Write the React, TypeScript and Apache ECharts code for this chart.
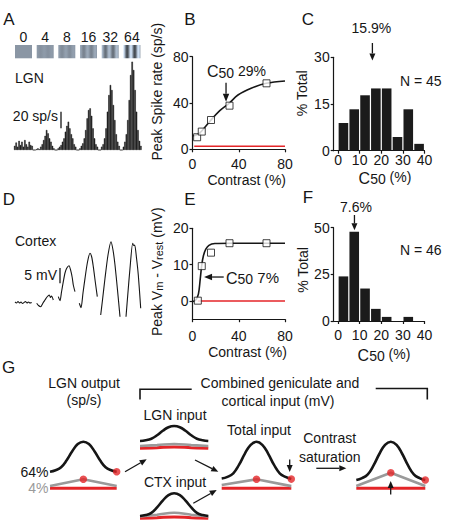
import React, { useEffect, useRef } from 'react';
import * as echarts from 'echarts';

const FONT = '"Liberation Sans", Arial, Helvetica, sans-serif';
const INK = '#161616';
const RED = '#e42528';
const GRAY = '#9a9a9a';

// ---------- Panel A: LGN PSTHs ----------
const stimContrasts = [0, 4, 8, 16, 32, 64];
const stimLabels = ['0', '4', '8', '16', '32', '64'];
const psth0 = [5, 9, 4, 11, 6, 10, 4, 12, 7, 4, 10, 6, 5];
const psth4 = [1, 2, 1, 4, 7, 12, 17, 24, 20, 14, 10, 5, 2];
const psth8 = [2, 4, 6, 10, 14, 22, 29, 34, 26, 19, 14, 7, 4];
const psth16 = [2, 5, 8, 14, 24, 38, 48, 50, 41, 26, 14, 7, 4];
const psth32 = [4, 7, 14, 26, 46, 66, 78, 72, 54, 36, 19, 10, 5];
const psth64 = [4, 10, 19, 36, 60, 90, 106, 96, 72, 46, 24, 11, 5];
const psthGapBins = 2;

// ---------- Panel B ----------
const bContrast = [4, 8, 16, 32, 64];
const bRate = [10.4, 15.3, 25.3, 37.7, 57];
const bFit = [[0, 11.5], [4.6, 12.9], [8, 15.8], [16, 25.3], [23.6, 33.4], [31.6, 39.7], [39.3, 46.9], [50.7, 52.7], [63.8, 57], [80, 59]];
const bSpont = [[1.5, 2.6], [80, 2.6]];
const bC50 = 29;

// ---------- Panel C ----------
const histBins = [2.5, 7.5, 12.5, 17.5, 22.5, 27.5, 32.5, 37.5];
const cPct = [8.9, 13.3, 17.8, 20, 20, 4.4, 13.3, 2.2];
const cMedian = 15.9;

// ---------- Panel D: cortical Vm traces (time, mV) ----------
const dSeg0 = [[5, 0], [6.5, -0.33], [8, 0.17], [9.5, -0.33], [11, 0], [12.5, -0.5], [14, -0.17], [15.5, 0.17], [17, -0.33], [18.5, 0], [20, -0.33], [21.7, -0.17]];
const dSeg4 = [[26.7, -0.43], [28.5, -1.17], [30.7, -1.57], [33, -0.33], [35, 0.67], [37, 1.67], [39.3, 2.33], [40.5, 1.5], [41.5, 2], [43.3, 0.67]];
const dSeg8 = [[48.3, 1.77], [50, 0.43], [51.5, 3.33], [53.3, 6.77], [55, 9.67], [56.7, 11.23], [59, 12.1], [61, 10.1], [62.3, 8], [63.3, 5.67], [65, 3.43]];
const dSeg16 = [[69.3, -0.43], [71, -1.9], [73, 3], [75, 7.9], [77.5, 13.33], [80, 16.23], [81.7, 15], [83.3, 11.77], [85.3, 6.67], [87.3, 1.77]];
const dSeg32 = [[90.7, -4.33], [92.5, 0.67], [95, 7.9], [98, 15.67], [101, 20.1], [103, 17.33], [105, 12.33], [107.5, 4], [110, -4.9]];
const dSeg64 = [[116, -4.9], [118, 3.33], [120, 11.23], [122.7, 19.57], [123.7, 18.83], [124.7, 19], [126.5, 14.67], [128.3, 9], [130.7, -2.1]];

// ---------- Panel E ----------
const eContrast = [4.6, 8, 16, 32, 64];
const eVm = [0.1, 9.6, 13.3, 15.9, 15.9];
const eFit = [[0, -0.2], [2.8, 0.3], [5.1, 1.9], [6.6, 5.8], [8, 9.9], [9.4, 12.4], [11.4, 14.2], [14.2, 15.3], [19.4, 15.8], [32.5, 15.9], [80, 15.9]];
const eRest = [[4.6, 0], [80, 0]];

// ---------- Panel F ----------
const fPct = [23.9, 47.8, 17.4, 6.5, 2.2, 0, 2.2, 0];
const fMedian = 7.6;

// ---------- Panel G: schematic tuning curves ----------
const gBlackLgnOut = [16.6, 18.1, 21.1, 28, 37, 44.2, 46.6, 44.2, 37, 28, 21.1, 18.1, 16.6];
const gBlackLgnIn = [7.3, 8, 9.6, 13, 17.5, 21.1, 22.3, 21.1, 17.5, 13, 9.6, 8, 7.3];
const gBlackCtxIn = [2.3, 3.2, 5.4, 10.9, 17.7, 23.2, 25, 23.2, 17.7, 10.9, 5.4, 3.2, 2.3];
const gBlackTotal = [9.8, 11.4, 15, 23.6, 34.7, 43.5, 46.5, 43.5, 34.7, 23.6, 15, 11.4, 9.2];
const gBlackSat = [8.3, 10.2, 14, 22.9, 34.3, 43.5, 46.6, 43.5, 34.3, 22.9, 14, 10.2, 8.3];
const gGrayLgnOut = [[0, 2.3], [6, 9], [12, 2.3]];
const gGrayLgnIn = [[0, 2.3], [3, 3.2], [6, 4.3], [9, 3.2], [12, 2.3]];
const gGrayCtxIn = [[0, 1.8], [3, 3.6], [6, 5.6], [9, 3.6], [12, 1.8]];
const gGrayTotal = [[0, 3.3], [6, 9], [12, 2.2]];
const gGraySat = [[0, 2.3], [6, 15.6], [12, 2.3]];
const gRedFlat = [[0, 0], [12, 0]];
const gRedHump = [[0, 0], [3, 0.6], [6, 1.3], [9, 0.6], [12, 0]];
const gDotsLgnOut = [[12, 16.6], [6, 9]];
const gDotsTotal = [[12, 9.2], [6, 9]];
const gDotsSat = [[12, 8.3], [6, 15.6]];

const gLayout = [
  { left: 50, width: 66.7, redY: 488.3, black: gBlackLgnOut, gray: gGrayLgnOut, graySmooth: false, red: gRedFlat, dots: gDotsLgnOut },
  { left: 140, width: 68.3, redY: 448.3, black: gBlackLgnIn, gray: gGrayLgnIn, graySmooth: true, red: gRedHump, dots: [] },
  { left: 140, width: 68.3, redY: 518.3, black: gBlackCtxIn, gray: gGrayCtxIn, graySmooth: true, red: gRedHump, dots: [] },
  { left: 221.7, width: 69.6, redY: 488.3, black: gBlackTotal, gray: gGrayTotal, graySmooth: false, red: gRedFlat, dots: gDotsTotal },
  { left: 356.3, width: 69, redY: 488.3, black: gBlackSat, gray: gGraySat, graySmooth: false, red: gRedFlat, dots: gDotsSat },
];

function axisBase(extra: any = {}) {
  return {
    axisLine: { show: true, onZero: false, lineStyle: { color: INK, width: 1.2 } },
    axisTick: { show: true, length: 3, lineStyle: { color: INK, width: 1.2 } },
    axisLabel: { fontSize: 14, color: INK, fontFamily: FONT, margin: 4 },
    splitLine: { show: false },
    ...extra,
  };
}

function txt(text: string, x: number, y: number, o: any = {}) {
  return {
    type: 'text', x, y, rotation: o.rot || 0, silent: true, z: 100,
    style: {
      text, fontSize: o.size || 14, fontFamily: FONT, fill: o.color || INK,
      align: o.align || 'center', verticalAlign: 'middle', rich: o.rich,
    },
  };
}

function arrow(x1: number, y1: number, x2: number, y2: number, lw = 1.3, head = 7, hw = 3) {
  const ang = Math.atan2(y2 - y1, x2 - x1);
  const bx = x2 - head * Math.cos(ang);
  const by = y2 - head * Math.sin(ang);
  const px = -Math.sin(ang) * hw;
  const py = Math.cos(ang) * hw;
  return [
    { type: 'line', silent: true, z: 100, shape: { x1, y1, x2: bx, y2: by }, style: { stroke: INK, lineWidth: lw } },
    { type: 'polygon', silent: true, z: 100, shape: { points: [[x2, y2], [bx + px, by + py], [bx - px, by - py]] }, style: { fill: INK } },
  ];
}

function subRich(cSize: number, sSize: number, tSize: number) {
  return {
    c: { fontSize: cSize, lineHeight: 16, verticalAlign: 'top', fontFamily: FONT, color: INK },
    s: { fontSize: sSize, lineHeight: 8, verticalAlign: 'bottom', fontFamily: FONT, color: INK },
    t: { fontSize: tSize, lineHeight: 16, verticalAlign: 'top', fontFamily: FONT, color: INK },
  };
}

function gratingFill(c: number) {
  const stops: any[] = [];
  const n = 40;
  for (let i = 0; i <= n; i++) {
    const pos = i / n;
    const f = 1 + 0.78 * (c / 100) * Math.cos(2 * Math.PI * 2.25 * pos);
    const r = Math.min(255, Math.round(138 * f));
    const g = Math.min(255, Math.round(150 * f));
    const b = Math.min(255, Math.round(164 * f));
    stops.push({ offset: pos, color: `rgb(${r},${g},${b})` });
  }
  return new echarts.graphic.LinearGradient(0, 0, 1, 0, stops);
}

function buildOption() {
  const psths = [psth0, psth4, psth8, psth16, psth32, psth64];
  const aValues: number[] = [];
  psths.forEach((h, i) => {
    aValues.push(...h);
    if (i < psths.length - 1) for (let k = 0; k < psthGapBins; k++) aValues.push(0);
  });
  const aCats = aValues.map((_, i) => String(i));

  const grids: any[] = [
    { left: 14, top: 50, width: 127.6, height: 100 }, // A
    { left: 192.5, top: 56.7, width: 92.5, height: 92.6 }, // B
    { left: 333.7, top: 57.3, width: 90.8, height: 93.4 }, // C
    { left: 10, top: 230, width: 140, height: 90 }, // D
    { left: 192.5, top: 228.3, width: 92.5, height: 90.9 }, // E
    { left: 333.7, top: 227.7, width: 90.8, height: 93.3 }, // F
  ];
  gLayout.forEach((g) => grids.push({ left: g.left, width: g.width, top: g.redY - 50, height: 50 }));
  grids.forEach((g) => { g.outerBoundsMode = 'none'; g.containLabel = false; });

  const xAxis: any[] = [
    { gridIndex: 0, type: 'category', data: aCats, show: false },
    { gridIndex: 1, type: 'value', min: 0, max: 80, interval: 40, ...axisBase(), axisLabel: { fontSize: 14, color: INK, fontFamily: FONT, margin: 8 } },
    {
      gridIndex: 2, type: 'value', min: -2, max: 40, ...axisBase(),
      axisLabel: { fontSize: 14, color: INK, fontFamily: FONT, margin: 2, customValues: [0, 10, 20, 30, 40] },
      axisTick: { show: true, length: 3, lineStyle: { color: INK, width: 1.2 }, customValues: [0, 10, 20, 30, 40] },
    },
    { gridIndex: 3, type: 'value', min: 0, max: 140, show: false },
    { gridIndex: 4, type: 'value', min: 0, max: 80, interval: 40, ...axisBase(), axisLabel: { fontSize: 14, color: INK, fontFamily: FONT, margin: 10 } },
    {
      gridIndex: 5, type: 'value', min: -2, max: 40, ...axisBase(),
      axisLabel: { fontSize: 14, color: INK, fontFamily: FONT, margin: 7, customValues: [0, 10, 20, 30, 40] },
      axisTick: { show: true, length: 3, lineStyle: { color: INK, width: 1.2 }, customValues: [0, 10, 20, 30, 40] },
    },
  ];
  const yAxis: any[] = [
    { gridIndex: 0, type: 'value', min: 0, max: 120, show: false },
    { gridIndex: 1, type: 'value', min: 0, max: 80, interval: 40, ...axisBase() },
    { gridIndex: 2, type: 'value', min: 0, max: 30, interval: 15, ...axisBase() },
    { gridIndex: 3, type: 'value', min: -6, max: 24, show: false },
    {
      gridIndex: 4, type: 'value', min: -5, max: 20, ...axisBase(),
      axisLabel: { fontSize: 14, color: INK, fontFamily: FONT, margin: 4, customValues: [0, 10, 20] },
      axisTick: { show: true, length: 3, lineStyle: { color: INK, width: 1.2 }, customValues: [0, 10, 20] },
    },
    { gridIndex: 5, type: 'value', min: 0, max: 50, interval: 25, ...axisBase() },
  ];
  gLayout.forEach((_, i) => {
    xAxis.push({ gridIndex: 6 + i, type: 'value', min: 0, max: 12, show: false });
    yAxis.push({ gridIndex: 6 + i, type: 'value', min: 0, max: 50, show: false });
  });

  const series: any[] = [
    // A
    {
      type: 'bar', xAxisIndex: 0, yAxisIndex: 0, data: aValues, barCategoryGap: '0%',
      itemStyle: { color: '#1b1b1b', borderColor: '#1b1b1b', borderWidth: 0.5 }, silent: true,
    },
    // B
    { type: 'line', xAxisIndex: 1, yAxisIndex: 1, data: bSpont, showSymbol: false, lineStyle: { color: RED, width: 1.5 }, silent: true },
    { type: 'line', xAxisIndex: 1, yAxisIndex: 1, data: bFit, smooth: 0.35, showSymbol: false, lineStyle: { color: INK, width: 1.6 }, silent: true },
    {
      type: 'scatter', xAxisIndex: 1, yAxisIndex: 1, data: bContrast.map((c, i) => [c, bRate[i]]), symbol: 'rect', symbolSize: 7,
      itemStyle: { color: '#fff', borderColor: INK, borderWidth: 1 }, z: 5, silent: true,
    },
    // C
    { type: 'bar', xAxisIndex: 2, yAxisIndex: 2, data: histBins.map((b, i) => [b, cPct[i]]), barWidth: 9.6, itemStyle: { color: '#1b1b1b' }, silent: true },
    // E
    { type: 'line', xAxisIndex: 4, yAxisIndex: 4, data: eRest, showSymbol: false, lineStyle: { color: RED, width: 1.5 }, silent: true },
    { type: 'line', xAxisIndex: 4, yAxisIndex: 4, data: eFit, smooth: 0.35, showSymbol: false, lineStyle: { color: INK, width: 1.6 }, silent: true },
    {
      type: 'scatter', xAxisIndex: 4, yAxisIndex: 4, data: eContrast.map((c, i) => [c, eVm[i]]), symbol: 'rect', symbolSize: 7,
      itemStyle: { color: '#fff', borderColor: INK, borderWidth: 1 }, z: 5, silent: true,
    },
    // F
    { type: 'bar', xAxisIndex: 5, yAxisIndex: 5, data: histBins.map((b, i) => [b, fPct[i]]), barWidth: 9.6, itemStyle: { color: '#1b1b1b' }, silent: true },
  ];
  [dSeg0, dSeg4, dSeg8, dSeg16, dSeg32, dSeg64].forEach((seg) => {
    series.push({ type: 'line', xAxisIndex: 3, yAxisIndex: 3, data: seg, smooth: 0.25, showSymbol: false, lineStyle: { color: INK, width: 1.1 }, silent: true });
  });
  gLayout.forEach((g, i) => {
    const ax = { xAxisIndex: 6 + i, yAxisIndex: 6 + i, silent: true, clip: false };
    series.push({ type: 'line', ...ax, data: g.red, smooth: 0.4, showSymbol: false, lineStyle: { color: RED, width: 3 }, z: 2 });
    series.push({ type: 'line', ...ax, data: g.gray, smooth: g.graySmooth ? 0.4 : false, showSymbol: false, lineStyle: { color: GRAY, width: 2.6 }, z: 3 });
    series.push({ type: 'line', ...ax, data: g.black.map((v, k) => [k, v]), smooth: 0.45, showSymbol: false, lineStyle: { color: INK, width: 2.6 }, z: 4 });
    if (g.dots.length) series.push({ type: 'scatter', ...ax, data: g.dots, symbolSize: 7.5, itemStyle: { color: RED }, z: 6 });
  });

  return {
    animation: false,
    backgroundColor: '#ffffff',
    textStyle: { fontFamily: FONT },
    grid: grids,
    xAxis,
    yAxis,
    series,
  };
}

function buildGraphics(chart: any) {
  const els: any[] = [];
  const px = (grid: number, v: number[]) => chart.convertToPixel({ gridIndex: grid }, v) as number[];

  // Panel letters
  [['A', 9, 19], ['B', 190, 19], ['C', 308, 19], ['D', 9, 199], ['E', 190, 199], ['F', 308, 197.5], ['G', 8.5, 367]].forEach(([t, x, y]) =>
    els.push(txt(t as string, x as number, y as number, { size: 17 })));

  // Panel A
  const boxX = [15, 36.7, 58.3, 80, 101.7, 123.4];
  stimContrasts.forEach((c, i) => {
    els.push({ type: 'rect', silent: true, shape: { x: boxX[i], y: 45, width: 17, height: 13.3 }, style: { fill: gratingFill(c) } });
    els.push(txt(stimLabels[i], boxX[i] + 8.5, 36.5));
  });
  els.push(txt('LGN', 15, 78, { align: 'left' }));
  els.push(txt('20 sp/s', 58, 116, { align: 'right' }));
  els.push({ type: 'line', silent: true, shape: { x1: 61, y1: 111.7, x2: 61, y2: 128.3 }, style: { stroke: INK, lineWidth: 1.3 } });

  // Panel B
  els.push(txt('Peak Spike rate (sp/s)', 157, 91.7, { rot: Math.PI / 2 }));
  els.push(txt('Contrast (%)', 246.7, 180));
  const b1 = px(1, [bC50, 57.5]);
  const b2 = px(1, [bC50, 41]);
  els.push(...arrow(b1[0], b1[1], b2[0], b2[1], 1.3, 8, 3.2));
  els.push(txt('{c|C}{s|50}{t| 29%}', 207, 71.5, { align: 'left', rich: subRich(16, 14, 14) }));

  // Panel C
  els.push(txt('% Total', 302, 93.3, { rot: Math.PI / 2 }));
  const c1 = px(2, [cMedian, 34.6]);
  const c2 = px(2, [cMedian, 29]);
  els.push(...arrow(c1[0], c1[1], c2[0], c2[1], 1.3, 7, 3));
  els.push(txt('15.9%', c1[0] - 1, c1[1] - 15));
  els.push(txt('N = 45', 400, 80.7, { align: 'left' }));
  els.push(txt('{c|C}{s|50}{t| (%)}', 385, 178, { rich: subRich(16, 14, 14) }));

  // Panel D
  els.push(txt('Cortex', 15, 241, { align: 'left' }));
  els.push(txt('5 mV', 57, 275, { align: 'right' }));
  els.push({ type: 'line', silent: true, shape: { x1: 60, y1: 268, x2: 60, y2: 283.3 }, style: { stroke: INK, lineWidth: 1.3 } });

  // Panel E
  els.push(txt('Peak V{s|m} - V{s|rest} (mV)', 157, 271.7, {
    rot: Math.PI / 2,
    rich: {
      s: { fontSize: 11, lineHeight: 9, verticalAlign: 'bottom', fontFamily: FONT, color: INK },
    },
  }));
  els.push(txt('Contrast (%)', 247.5, 351.7));
  const e1 = px(4, [27, 6.6]);
  const e2 = px(4, [10, 6.6]);
  els.push(...arrow(e1[0], e1[1], e2[0], e2[1], 1.3, 8, 3.2));
  els.push(txt('{c|C}{s|50}{t| 7%}', 226, 278, { align: 'left', rich: subRich(16, 14, 15) }));

  // Panel F
  els.push(txt('% Total', 302.5, 270, { rot: Math.PI / 2 }));
  const f1 = px(5, [fMedian, 56.8]);
  const f2 = px(5, [fMedian, 48.6]);
  els.push(...arrow(f1[0], f1[1], f2[0], f2[1], 1.3, 7, 3));
  els.push(txt('7.6%', f1[0] + 1.5, f1[1] - 8.5));
  els.push(txt('N = 46', 400, 250, { align: 'left' }));
  els.push(txt('{c|C}{s|50}{t| (%)}', 384, 355, { rich: subRich(16, 14, 14) }));

  // Panel G
  els.push(txt('LGN output', 84, 383.3));
  els.push(txt('(sp/s)', 84, 400));
  els.push(txt('Combined geniculate and', 280, 382.7));
  els.push(txt('cortical input (mV)', 278, 400.7));
  els.push({ type: 'polyline', silent: true, shape: { points: [[140, 399.5], [140, 389.3], [191.7, 389.3]] }, style: { stroke: INK, lineWidth: 1.6, fill: null } });
  els.push({ type: 'polyline', silent: true, shape: { points: [[375.7, 388.5], [427.3, 388.5], [427.3, 399.5]] }, style: { stroke: INK, lineWidth: 1.6, fill: null } });
  els.push(txt('LGN input', 175, 415));
  els.push(txt('CTX input', 175, 481.7));
  els.push(txt('Total input', 259, 430));
  els.push(txt('Contrast', 329.7, 438.3));
  els.push(txt('saturation', 329.7, 456.7));
  els.push(txt('64%', 48.5, 471.7, { align: 'right' }));
  els.push(txt('4%', 48.5, 488.3, { align: 'right', color: '#9a9a9a' }));
  els.push(...arrow(125, 471.7, 146.7, 459.3));
  els.push(...arrow(195, 460, 218.3, 471.7));
  els.push(...arrow(193.3, 503.3, 216.7, 490));
  els.push(...arrow(289.7, 459.5, 289.7, 472));
  els.push(...arrow(316.3, 468.3, 346.3, 468.3));
  els.push(...arrow(390.7, 494.5, 390.7, 481));

  return { elements: els };
}

export default function App() {
  const ref = useRef<HTMLDivElement>(null);
  useEffect(() => {
    const chart = echarts.init(ref.current as HTMLDivElement, undefined, { renderer: 'svg' });
    chart.setOption(buildOption() as any);
    chart.setOption({ graphic: buildGraphics(chart) } as any);
    return () => chart.dispose();
  }, []);
  return <div ref={ref} style={{ position: 'absolute', left: 0, top: 0, width: 458, height: 528, background: '#fff' }} />;
}
